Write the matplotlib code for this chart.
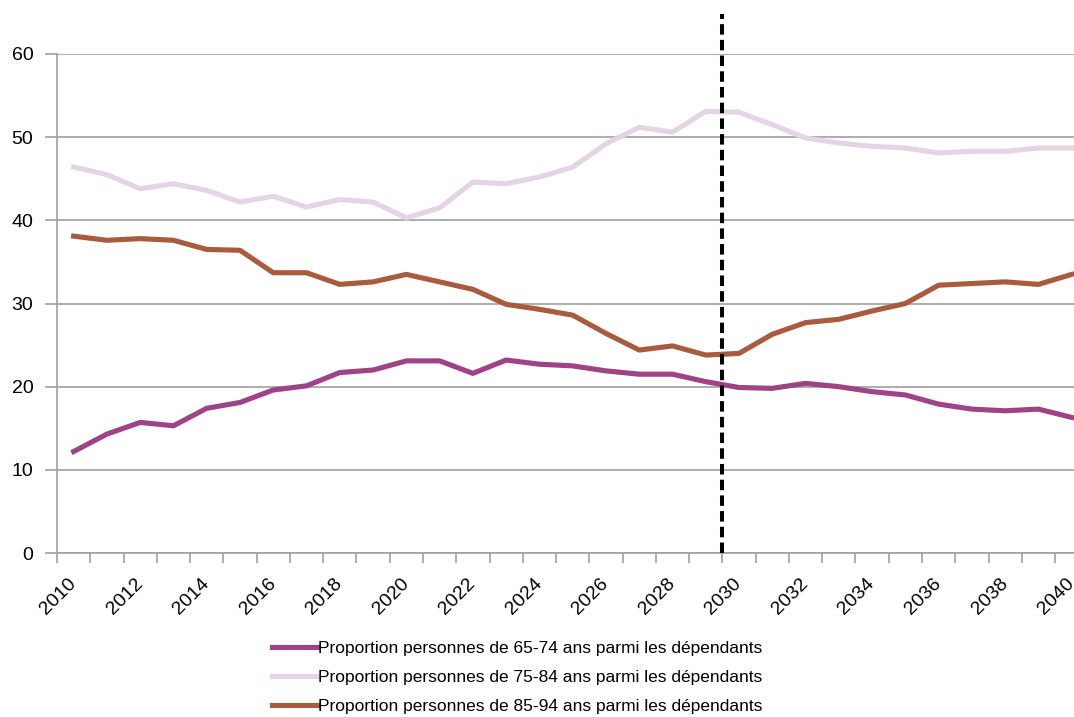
import matplotlib
matplotlib.use('Agg')
import matplotlib.pyplot as plt
from matplotlib import font_manager
import numpy as np

years = list(range(2010, 2041))

# proportion 65-74 ans parmi les dependants
p_65_74 = [12.2, 14.3, 15.7, 15.3, 17.4, 18.1, 19.6, 20.1, 21.7, 22.0, 23.1,
           23.1, 21.6, 23.2, 22.7, 22.5, 21.9, 21.5, 21.5, 20.6, 19.9,
           19.8, 20.4, 20.0, 19.4, 19.0, 17.9, 17.3, 17.1, 17.3, 16.3]
# proportion 75-84 ans
p_75_84 = [46.4, 45.5, 43.8, 44.4, 43.6, 42.2, 42.9, 41.6, 42.5, 42.2, 40.3,
           41.5, 44.6, 44.4, 45.2, 46.4, 49.2, 51.2, 50.6, 53.1, 53.0,
           51.5, 49.9, 49.3, 48.9, 48.7, 48.1, 48.3, 48.3, 48.7, 48.7]
# proportion 85-94 ans
p_85_94 = [38.1, 37.6, 37.8, 37.6, 36.5, 36.4, 33.7, 33.7, 32.3, 32.6, 33.5,
           32.6, 31.7, 29.9, 29.3, 28.6, 26.4, 24.4, 24.9, 23.8, 24.0,
           26.3, 27.7, 28.1, 29.1, 30.0, 32.2, 32.4, 32.6, 32.3, 33.5]

labels = ['Proportion personnes de 65-74 ans parmi les dépendants',
          'Proportion personnes de 75-84 ans parmi les dépendants',
          'Proportion personnes de 85-94 ans parmi les dépendants']
colors = ['#9E4385', '#E4D5E4', '#A85B3D']

split_year = 2029.5   # ligne pointillee entre 2029 et 2030
split_top = 64.8

installed = {f.name for f in font_manager.fontManager.ttflist}
narrow = 'Liberation Sans Narrow' in installed
leg_font = 'Liberation Sans Narrow' if narrow else 'Liberation Sans'
leg_size = 14.5 if narrow else 12.5

plt.rcParams['font.family'] = ['Liberation Sans', 'DejaVu Sans']

fig = plt.figure(figsize=(10.74, 7.17), dpi=100)
ax = fig.add_axes([57/1074, 1 - 553/717, 1 - 57/1074, (553-54)/717])

for vals, lab, c in zip([p_65_74, p_75_84, p_85_94], labels, colors):
    ax.plot(years, vals, color=c, lw=3.7, label=lab, solid_joinstyle='round')

ax.plot([split_year, split_year], [0, split_top], color='black', lw=2.9,
        linestyle=(0, (2.6, 1.3)), clip_on=False, zorder=5)

ax.set_yticks(np.arange(0, 61, 10))
ax.yaxis.grid(True, color='#a0a0a0', lw=1.2)
ax.set_axisbelow(True)

ax.set_xticks(years[::2])
ax.set_xticklabels([str(y) for y in years[::2]], rotation=45, ha='right', va='center',
                   rotation_mode='anchor', fontsize=14)
ax.set_xticks(np.arange(2009.5, 2041, 1), minor=True)
ax.tick_params(axis='x', which='major', length=0, pad=20)
ax.tick_params(axis='x', which='minor', length=7, color='#a0a0a0', width=1.2)
ax.tick_params(axis='y', length=9, color='#a0a0a0', width=1.2, labelsize=14, pad=8)

# limits after the ticks, set_xticks widens the view otherwise
ax.set_xlim(2009.5, 2009.5 + (1074 - 57) / 33.27)
ax.set_ylim(0, 60)

for s in ['top', 'right']:
    ax.spines[s].set_visible(False)
for s in ['left', 'bottom']:
    ax.spines[s].set_color('#a0a0a0')
    ax.spines[s].set_linewidth(1.2)

fig.legend(loc='upper left', bbox_to_anchor=(263/1074, 1 - 632/717), frameon=False,
           handlelength=45 / (leg_size * 100 / 72), handletextpad=0.1, labelspacing=0.8,
           borderpad=0, prop={'family': leg_font, 'size': leg_size})

fig.savefig('out.png', dpi=100)
